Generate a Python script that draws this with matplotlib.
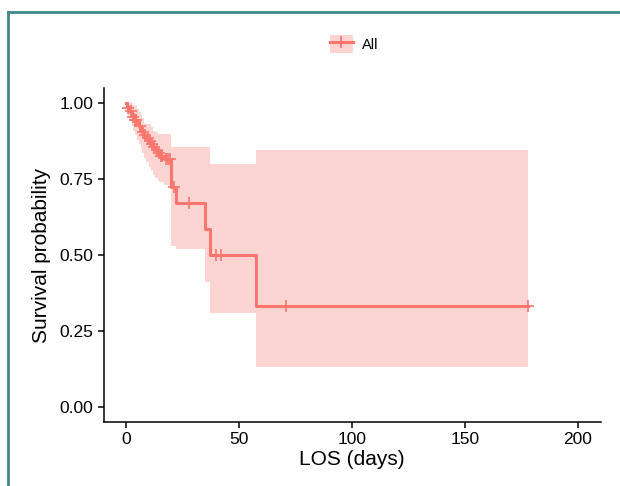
import numpy as np
import matplotlib
matplotlib.use("Agg")
import matplotlib.pyplot as plt
from matplotlib.lines import Line2D
from matplotlib.patches import Patch

plt.rcParams['font.family'] = ['Liberation Sans', 'DejaVu Sans']

# Kaplan-Meier step data
times = [0, 0.5, 1, 1.5, 2.5, 3, 4, 5, 5.5, 6.5, 7, 8, 9, 10, 11, 12, 13, 14, 15, 17,
         20, 22, 35, 37, 57.5, 178]
surv = [1.0, 0.99, 0.985, 0.975, 0.965, 0.955, 0.945, 0.935, 0.925, 0.915, 0.905,
        0.895, 0.885, 0.875, 0.865, 0.855, 0.845, 0.835, 0.825, 0.815,
        0.725, 0.67, 0.585, 0.50, 0.333, 0.333]
upper = [1.0, 1.0, 1.0, 1.0, 1.0, 0.995, 0.99, 0.98, 0.97, 0.96, 0.95,
         0.93, 0.93, 0.93, 0.92, 0.91, 0.905, 0.90, 0.90, 0.90,
         0.855, 0.855, 0.855, 0.80, 0.845, 0.845]
lower = [1.0, 0.97, 0.955, 0.94, 0.925, 0.91, 0.895, 0.88, 0.865, 0.85, 0.835,
         0.82, 0.805, 0.79, 0.78, 0.765, 0.755, 0.745, 0.74, 0.73,
         0.53, 0.52, 0.41, 0.31, 0.13, 0.13]
censor_t = [1, 2, 3, 4, 4.5, 6, 7.5, 8.5, 9.5, 10.5, 11.5, 12.5, 13.5, 14.5, 15.5,
            16, 17.5, 18.5, 19.5, 21, 28, 40, 42, 71, 178]

red = '#F8766D'

def surv_at(t):
    idx = np.searchsorted(times, t, side='right') - 1
    return surv[idx]

fig = plt.figure(figsize=(6.2, 4.86), dpi=100)
ax = fig.add_axes([103.5/620, 64/486, 497/620, 334/486])

ax.fill_between(times, lower, upper, step='post', color=red, alpha=0.3, lw=0)
ax.step(times, surv, where='post', color=red, lw=2.2)
ax.plot(censor_t, [surv_at(t) for t in censor_t], ls='none', marker='+',
        color=red, ms=8, mew=1.2)

ax.set_xlim(-10, 210)
ax.set_ylim(-0.05, 1.05)
ax.set_xticks([0, 50, 100, 150, 200])
ax.set_yticks([0, 0.25, 0.5, 0.75, 1.0])
ax.set_yticklabels(['0.00', '0.25', '0.50', '0.75', '1.00'])
ax.tick_params(labelsize=12.5, length=4, width=1.1, color='black', labelcolor='black')
for s in ['top', 'right']:
    ax.spines[s].set_visible(False)
for s in ['left', 'bottom']:
    ax.spines[s].set_linewidth(1.1)
ax.set_xlabel('LOS (days)', fontsize=15, labelpad=2)
ax.set_ylabel('Survival probability', fontsize=15, labelpad=6)

handle = (Patch(facecolor=red, alpha=0.3, lw=0),
          Line2D([], [], color=red, lw=2.2, marker='+', ms=9, mew=1.3))
fig.legend([handle], ['All'], loc='center', bbox_to_anchor=(354/620, 1 - 44/486),
           frameon=False, fontsize=10.5, handlelength=1.6, handleheight=1.6,
           handletextpad=0.6)

# teal frame around the figure
frame = '#3f8a87'
fig.add_artist(Line2D([8/620, 8/620], [0, 1 - 12/486], color=frame, lw=2))
fig.add_artist(Line2D([8/620, 1], [1 - 12/486, 1 - 12/486], color=frame, lw=2))

fig.savefig('out.png', dpi=100)
